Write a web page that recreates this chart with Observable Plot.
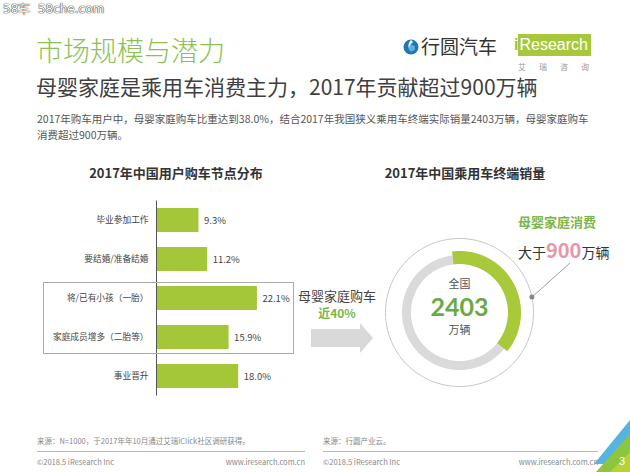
<!DOCTYPE html>
<html><head><meta charset="utf-8">
<script src="https://cdn.jsdelivr.net/npm/d3@7"></script>
<script src="https://cdn.jsdelivr.net/npm/@observablehq/plot@0.6"></script>
<style>
body{margin:0;background:#fff;}
#page{position:relative;width:630px;height:472px;overflow:hidden;background:#fff;font-family:"Noto Sans CJK SC","Noto Sans",sans-serif;color:#333}
.a{position:absolute;white-space:nowrap;line-height:1}
</style></head>
<body><div id="page"></div>
<script>
// ---- data ----
const stages = ["毕业参加工作", "要结婚/准备结婚", "将/已有小孩（一胎）", "家庭成员增多（二胎等）", "事业晋升"];
const stageShares = [9.3, 11.2, 22.1, 15.9, 18.0];
const totalSales = 2403;          // 万辆
const familyShare = 38.0;         // %
const familySales = 900;          // 万辆 (大于)

const page = document.getElementById("page");
function txt(html, css) {
  const d = document.createElement("div");
  d.className = "a";
  d.innerHTML = html;
  d.style.cssText += css;
  page.appendChild(d);
  return d;
}
const FONT = '"Noto Sans CJK SC","Noto Sans",sans-serif';

// ---- header ----
txt("58车&nbsp;&nbsp;58che.com", "left:3px;top:3px;font-size:12px;color:#fff;text-shadow:0 0 1px #444,0 0 1px #444,0 0 1px #444;font-family:'DejaVu Sans',sans-serif;");
txt("市场规模与潜力", "left:36px;top:36px;font-size:27px;color:#8cc152;font-weight:300;");
txt("母婴家庭是乘用车消费主力，2017年贡献超过900万辆", "left:36px;top:76px;font-size:21px;color:#404040;");
txt("2017年购车用户中，母婴家庭购车比重达到38.0%，结合2017年我国狭义乘用车终端实际销量2403万辆，母婴家庭购车<br>消费超过900万辆。",
  "left:37px;top:111px;font-size:10.5px;color:#555;line-height:16px;");

// logo
txt('<svg width="16" height="18" viewBox="0 0 16 18"><circle cx="8" cy="10" r="7.5" fill="#1f78b4"/><path d="M8 3 C4 7 5 13 9 15 C6 12 6 8 10 5 Z" fill="#fff"/><circle cx="9" cy="11" r="3" fill="#5fb0e0"/></svg>',
  "left:403px;top:37px;");
txt("行圆汽车", "left:421px;top:36px;font-size:19px;color:#333;");
txt('<span style="color:#9cc33b;font-weight:bold">i</span><span style="background:#a8c83c;color:#fff;padding:2px 3px 3px 1px;">Research</span>',
  "left:514px;top:37px;font-size:16px;font-family:'Liberation Sans',Arial,sans-serif;");
txt("艾瑞咨询", "left:518px;top:63px;font-size:8px;color:#999;letter-spacing:13px;");

// ---- section titles ----
txt("2017年中国用户购车节点分布", "left:176px;top:166px;font-size:13px;font-weight:bold;color:#333;transform:translateX(-50%);");
txt("2017年中国乘用车终端销量", "left:465px;top:166px;font-size:13px;font-weight:bold;color:#333;transform:translateX(-50%);");

// ---- left bar chart ----
const barData = stages.map((s, i) => ({stage: s, share: stageShares[i]}));
const bars = Plot.plot({
  width: 320, height: 215,
  marginLeft: 156, marginRight: 27, marginTop: 10.6, marginBottom: 9.4,
  x: {domain: [0, 30], axis: null},
  y: {domain: stages, paddingInner: 0.385, paddingOuter: 0.19, axis: null},
  style: {fontFamily: FONT, fontSize: "9px", color: "#444", background: "transparent"},
  marks: [
    Plot.barX(barData, {x: "share", y: "stage", fill: "#a4c639"}),
    Plot.ruleX([0], {stroke: "#555", strokeWidth: 1}),
    Plot.text(barData, {x: "share", y: "stage", text: d => d.share.toFixed(1) + "%", dx: 5, textAnchor: "start", fill: "#444", fontSize: 9.5}),
    Plot.axisY({tickSize: 0, tickPadding: 8, fontSize: 8.7, fill: "#444", label: null})
  ]
});
bars.style.position = "absolute"; bars.style.left = "0px"; bars.style.top = "190px";
page.appendChild(bars);
// highlight frame
const fr = document.createElement("div");
fr.style.cssText = "position:absolute;left:43px;top:282px;width:249px;height:70px;border:1px solid #aaa;";
page.appendChild(fr);

// ---- left-of-donut callout ----
txt("母婴家庭购车", "left:337px;top:289px;font-size:13px;color:#444;transform:translateX(-50%);");
txt("近" + Math.round(familyShare / 10) * 10 + "%", "left:337px;top:307px;font-size:12px;font-weight:bold;color:#7ab648;transform:translateX(-50%);");
txt('<svg width="62" height="30"><polygon points="0,6 49,6 49,0 62,15 49,30 49,24 0,24" fill="#d9d9d9"/></svg>', "left:311px;top:323px;");

// ---- donut ----
const ringPts = (r, a0, a1) => d3.range(a0, a1 + 0.001, 1).map(a => {
  const t = a * Math.PI / 180;
  return {x: r * Math.sin(t), y: r * Math.cos(t)};
});
const startAngle = -7;
const outer = ringPts(74, 0, 360);
const grayRing = ringPts(53, 0, 360);
const greenArc = ringPts(55, startAngle, startAngle + familyShare / 100 * 360);
const dotA = 78 * Math.PI / 180;
const dotPt = {x: 74 * Math.sin(dotA), y: 74 * Math.cos(dotA)};
const donut = Plot.plot({
  width: 240, height: 180,
  margin: 0,
  x: {domain: [-101, 139], range: [0, 240], axis: null},
  y: {domain: [-90, 90], range: [180, 0], axis: null},
  style: {fontFamily: FONT, background: "transparent", overflow: "visible"},
  marks: [
    Plot.line(outer, {x: "x", y: "y", stroke: "#c4c4c4", strokeWidth: 1}),
    Plot.line(grayRing, {x: "x", y: "y", stroke: "#dadada", strokeWidth: 9}),
    Plot.line(greenArc, {x: "x", y: "y", stroke: "#a8c93a", strokeWidth: 13, strokeLinecap: "butt"}),
    Plot.link([dotPt], {x1: "x", y1: "y", x2: d => d.x + 38, y2: d => d.y + 34, stroke: "#888", strokeWidth: 0.8}),
    Plot.dot([dotPt], {x: "x", y: "y", r: 2.5, fill: "#888"}),
    Plot.text(["全国"], {x: 0, y: 0, dy: -28, text: d => d, fontSize: 11, fill: "#555"}),
    Plot.text([totalSales], {x: 0, y: 0, dy: -5, text: d => String(d), fontSize: 25, fontWeight: "bold", fill: "#6aaa46", fontFamily: "Lato, 'Noto Sans', sans-serif"}),
    Plot.text(["万辆"], {x: 0, y: 0, dy: 18, text: d => d, fontSize: 11, fill: "#555"})
  ]
});
donut.style.position = "absolute"; donut.style.left = "358px"; donut.style.top = "222px";
page.appendChild(donut);

txt("母婴家庭消费", "left:557px;top:215px;font-size:13px;font-weight:bold;color:#7ab648;transform:translateX(-50%);");
txt('大于<span style="font-size:20px;font-weight:bold;color:#e896aa;">' + familySales + '</span>万辆',
  "left:518px;top:240px;font-size:14px;color:#333;line-height:20px;");

// ---- footer ----
const fcss = "font-size:7.5px;color:#888;";
txt("来源：N=1000，于2017年年10月通过艾瑞iClick社区调研获得。", "left:37px;top:437px;" + fcss);
txt("来源：行圆产业云。", "left:323px;top:437px;" + fcss);
txt("©2018.5 iResearch Inc", "left:37px;top:458px;" + fcss);
txt("©2018.5 iResearch Inc", "left:323px;top:458px;" + fcss);
txt("www.iresearch.com.cn", "left:305px;top:458px;transform:translateX(-100%);" + fcss);
txt("www.iresearch.com.cn", "left:598px;top:458px;transform:translateX(-100%);" + fcss);
const l1 = document.createElement("div"); l1.style.cssText = "position:absolute;left:37px;top:451px;width:268px;height:1px;background:#bbb;"; page.appendChild(l1);
const l2 = document.createElement("div"); l2.style.cssText = "position:absolute;left:323px;top:451px;width:275px;height:1px;background:#bbb;"; page.appendChild(l2);

// corner decoration
txt('<svg width="40" height="60"><polygon points="40,8 40,24 14,52 4,52" fill="#55b4e0"/><polygon points="40,22 40,60 6,60" fill="#8cc63f"/><polygon points="40,40 40,60 20,60" fill="#b5d334"/></svg>', "left:590px;top:412px;");
txt("3", "left:619px;top:456px;font-size:11px;color:#fff;font-family:'Liberation Sans',sans-serif;");
</script>
</body></html>
